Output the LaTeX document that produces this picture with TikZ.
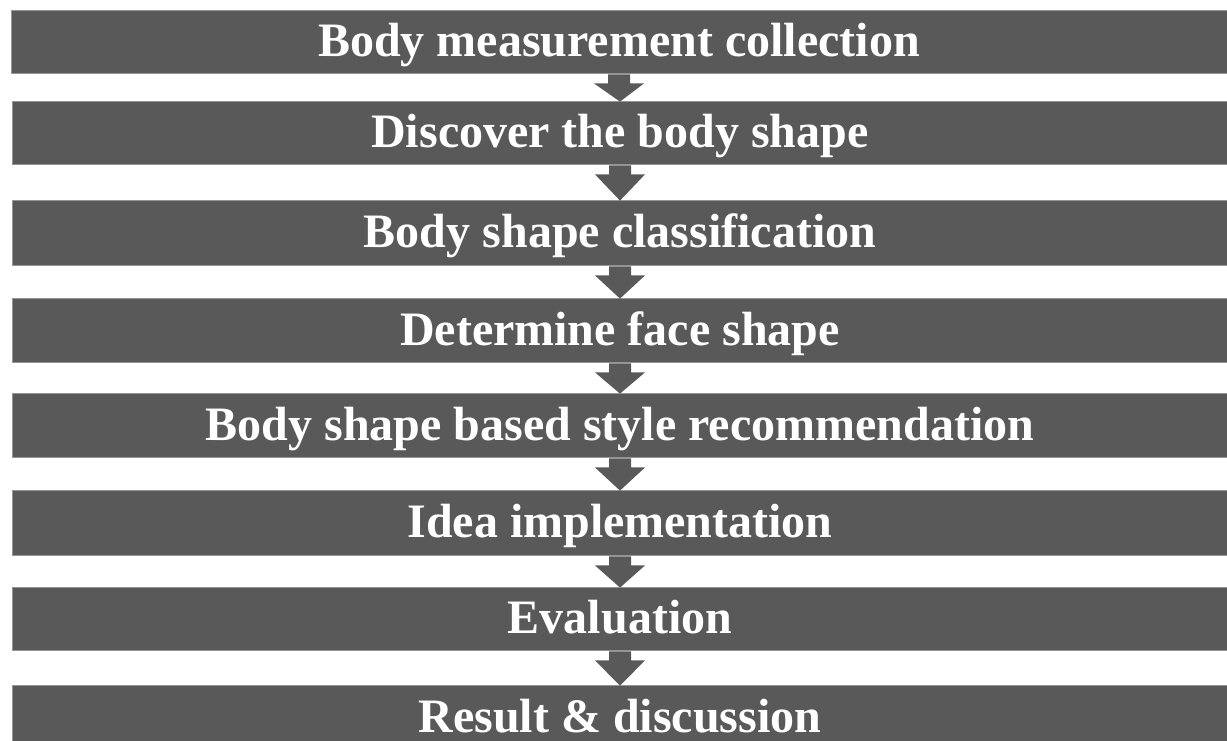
\documentclass[tikz,border=0pt]{standalone}
\usepackage{fontspec}
\setmainfont{Liberation Serif}
\usetikzlibrary{calc}
\definecolor{boxgray}{RGB}{89,89,89}
\definecolor{edgegray}{RGB}{150,150,150}
\tikzset{
  stagebox/.style={rectangle, fill=boxgray, draw=edgegray, line width=0.8pt,
    minimum width=1216pt, minimum height=#1, inner sep=0pt,
    text height=37pt, text depth=7pt, text=white,
    font=\fontsize{48}{52}\selectfont\bfseries},
  flowarrow/.style={fill=boxgray, draw=none}
}
\newcommand{\flowarr}[2]{%
  \fill[flowarrow] ($(#1.south)+(-11pt,-1pt)$) -- ($(#1.south)+(11pt,-1pt)$)
    -- ($(#1.south)+(11pt,-10pt)$) -- ($(#1.south)+(25pt,-10pt)$)
    -- ($(#2.north)+(0pt,-1pt)$) -- ($(#1.south)+(-25pt,-10pt)$)
    -- ($(#1.south)+(-11pt,-10pt)$) -- cycle;}
\begin{document}
\begin{tikzpicture}[x=1pt,y=-1pt]
\clip (0,0) rectangle (1227,740);
\node[stagebox=63pt] (b1) at (619,41.5) {Body measurement collection};
\node[stagebox=63pt] (b2) at (620,132.5) {Discover the body shape};
\node[stagebox=65pt] (b3) at (620,232.5) {Body shape classification};
\node[stagebox=64pt] (b4) at (620,330) {Determine face shape};
\node[stagebox=64pt] (b5) at (620,425) {Body shape based style recommendation};
\node[stagebox=65pt] (b6) at (620,522.5) {Idea implementation};
\node[stagebox=63pt] (b7) at (620,618.5) {Evaluation};
\node[stagebox=64pt] (b8) at (620,717) {Result \& discussion};
\flowarr{b1}{b2}
\flowarr{b2}{b3}
\flowarr{b3}{b4}
\flowarr{b4}{b5}
\flowarr{b5}{b6}
\flowarr{b6}{b7}
\flowarr{b7}{b8}
\end{tikzpicture}
\end{document}
